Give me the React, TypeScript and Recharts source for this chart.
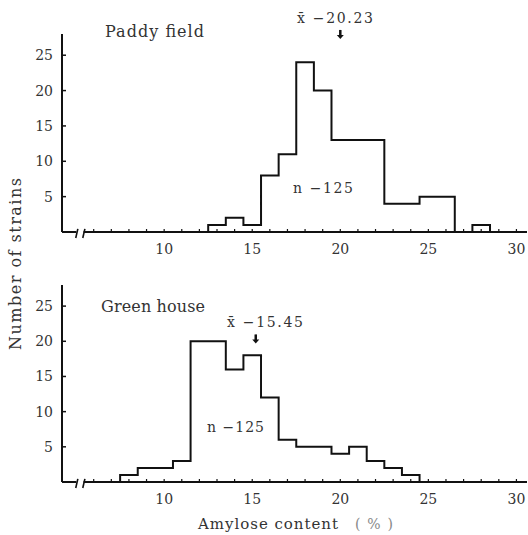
import React from 'react'
import { LineChart, Line, XAxis, YAxis, ReferenceLine, ReferenceDot } from 'recharts'

// histogram bins (1 % wide)
const paddyBinStarts = [12.5, 13.5, 14.5, 15.5, 16.5, 17.5, 18.5, 19.5, 20.5, 21.5, 22.5, 23.5, 24.5, 25.5, 26.5, 27.5]
const paddyCounts = [1, 2, 1, 8, 11, 24, 20, 13, 13, 13, 4, 4, 5, 5, 0, 1]
const greenBinStarts = [7.5, 8.5, 9.5, 10.5, 11.5, 12.5, 13.5, 14.5, 15.5, 16.5, 17.5, 18.5, 19.5, 20.5, 21.5, 22.5, 23.5]
const greenCounts = [1, 2, 2, 3, 20, 20, 16, 18, 12, 6, 5, 5, 4, 5, 3, 2, 1]

const xTicks = [6, 7, 8, 9, 10, 11, 12, 13, 14, 15, 16, 17, 18, 19, 20, 21, 22, 23, 24, 25, 26, 27, 28, 29, 30]
const yTicks = [5, 10, 15, 20, 25]

// where the mean arrows sit on the page
const paddyArrow = { x: 20.0, y: 27.3 }
const greenArrow = { x: 15.2, y: 19.7 }

const FONT = '"DejaVu Serif", serif'
const INK = '#111'
const TEXT = '#333'
const BIN_W = 1

const toSteps = (starts: number[], counts: number[]) => [
  { x: starts[0], count: 0 },
  ...starts.map((s, i) => ({ x: s, count: counts[i] })),
  { x: starts[starts.length - 1] + BIN_W, count: 0 },
]

const XTick = (props: any) => {
  const { x, y, payload } = props
  return (
    <g>
      <line x1={x} y1={y} x2={x} y2={y - 3} stroke={INK} strokeWidth={1.2} />
      {payload.value % 5 === 0 && (
        <text x={x} y={y + 22} textAnchor="middle" style={{ fontFamily: FONT, fontSize: 14 }} fill={TEXT}>
          {payload.value}
        </text>
      )}
    </g>
  )
}

const YTick = (props: any) => {
  const { x, y, payload } = props
  return (
    <g>
      <line x1={x} y1={y} x2={x + 4} y2={y} stroke={INK} strokeWidth={1.5} />
      <text x={x - 9} y={y + 5} textAnchor="end" style={{ fontFamily: FONT, fontSize: 14 }} fill={TEXT}>
        {payload.value}
      </text>
    </g>
  )
}

const Arrow = (props: any) => {
  const { cx, cy } = props
  return (
    <g>
      <line x1={cx} y1={cy - 9} x2={cx} y2={cy - 3} stroke={INK} strokeWidth={2.5} />
      <path d={`M${cx - 3.5},${cy - 4} L${cx + 3.5},${cy - 4} L${cx},${cy} Z`} fill={INK} />
    </g>
  )
}

const Panel = ({ starts, counts, arrow, height, top, xAxisH }: any) => (
  <LineChart
    width={528}
    height={height}
    data={toSteps(starts, counts)}
    margin={{ top, right: 1, bottom: 0, left: 2 }}
  >
    <XAxis
      type="number"
      dataKey="x"
      domain={[4.2, 30.6]}
      ticks={xTicks}
      allowDataOverflow
      axisLine={false}
      tickLine={false}
      tickSize={0}
      tickMargin={0}
      height={xAxisH}
      tick={<XTick />}
      interval={0}
    />
    <YAxis
      type="number"
      domain={[0, 28]}
      ticks={yTicks}
      width={60}
      axisLine={{ stroke: INK, strokeWidth: 2 }}
      tickLine={false}
      tickSize={0}
      tickMargin={0}
      tick={<YTick />}
      interval={0}
    />
    {/* broken x axis */}
    <ReferenceLine segment={[{ x: 4.2, y: 0 }, { x: 5.02, y: 0 }]} stroke={INK} strokeWidth={2} ifOverflow="visible" />
    <ReferenceLine segment={[{ x: 5.42, y: 0 }, { x: 30.6, y: 0 }]} stroke={INK} strokeWidth={2} ifOverflow="visible" />
    <ReferenceLine segment={[{ x: 4.98, y: -0.85 }, { x: 5.1, y: 0.45 }]} stroke={INK} strokeWidth={1.6} ifOverflow="visible" />
    <ReferenceLine segment={[{ x: 5.38, y: -0.85 }, { x: 5.5, y: 0.45 }]} stroke={INK} strokeWidth={1.6} ifOverflow="visible" />
    <Line
      type="stepAfter"
      dataKey="count"
      stroke={INK}
      strokeWidth={2}
      dot={false}
      activeDot={false}
      isAnimationActive={false}
    />
    <ReferenceDot x={arrow.x} y={arrow.y} r={0} ifOverflow="visible" shape={<Arrow />} />
  </LineChart>
)

const txt = { style: { fontFamily: FONT }, fill: TEXT }

export default function App() {
  return (
    <div style={{ position: 'absolute', left: 0, top: 0, width: 528, height: 535, background: '#fff', fontFamily: FONT }}>
      <div style={{ position: 'absolute', left: 0, top: 0 }}>
        <Panel starts={paddyBinStarts} counts={paddyCounts} arrow={paddyArrow} height={270} top={34} xAxisH={38} />
      </div>
      <div style={{ position: 'absolute', left: 0, top: 270 }}>
        <Panel starts={greenBinStarts} counts={greenCounts} arrow={greenArrow} height={265} top={15} xAxisH={53} />
      </div>
      <svg width={528} height={535} style={{ position: 'absolute', left: 0, top: 0, pointerEvents: 'none' }}>
        <text x={105} y={37} fontSize={16} textLength={99} {...txt}>Paddy field</text>
        <text x={297} y={23} fontSize={14} textLength={76} {...txt}>x̄ −20.23</text>
        <text x={293} y={193} fontSize={14} textLength={60} {...txt}>n −125</text>
        <text x={101} y={312} fontSize={16} textLength={104} {...txt}>Green house</text>
        <text x={227} y={327} fontSize={14} textLength={76} {...txt}>x̄ −15.45</text>
        <text x={207} y={432} fontSize={14} textLength={57} {...txt}>n −125</text>
        <text x={198} y={529} fontSize={15} textLength={140} {...txt}>Amylose content</text>
        <text x={355} y={529} fontSize={14} textLength={38} style={{ fontFamily: FONT }} fill="#888">(%)</text>
        <text
          x={21}
          y={264}
          fontSize={16}
          textAnchor="middle"
          textLength={172}
          transform="rotate(-90 21 264)"
          {...txt}
        >
          Number of strains
        </text>
      </svg>
    </div>
  )
}
